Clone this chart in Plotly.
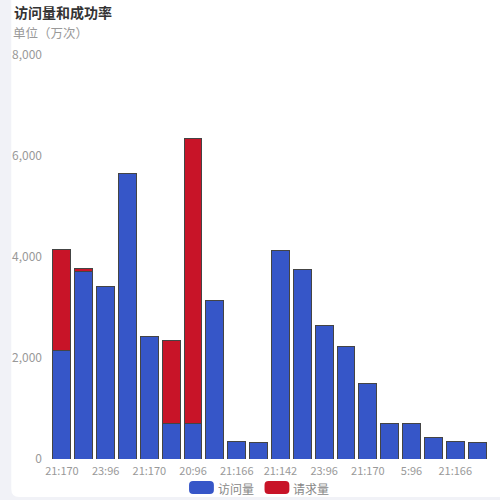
# 访问量和成功率 - stacked bar chart
import plotly.graph_objects as go

# Data
tick_labels = ['21:170', '23:96', '21:170', '20:96', '21:166',
               '21:142', '23:96', '21:170', '5:96', '21:166']
visits = [2140, 3720, 3420, 5650, 2420, 710, 710, 3130, 340, 320,
          4130, 3760, 2650, 2220, 1500, 710, 710, 420, 340, 320]
requests = [2000, 45, 0, 0, 0, 1630, 5640, 0, 0, 0,
            0, 0, 0, 0, 0, 0, 0, 0, 0, 0]

BLUE = '#3656c8'
RED = '#c81428'
GREY = '#999999'
FONT = 'Noto Sans CJK SC'

# Plot area in pixels (500x500 page)
L, R, T, B = 48, 12, 55, 41
PW, PH = 500 - L - R, 500 - T - B


def px_x(p):
    return (p - L) / PW


def px_y(p):
    return (500 - B - p) / PH


def rounded_rect(x0, y0, x1, y1, r):
    # path in paper coords from pixel corners
    pts = [
        f"M {px_x(x0 + r)} {px_y(y0)}",
        f"L {px_x(x1 - r)} {px_y(y0)}",
        f"Q {px_x(x1)} {px_y(y0)} {px_x(x1)} {px_y(y0 + r)}",
        f"L {px_x(x1)} {px_y(y1 - r)}",
        f"Q {px_x(x1)} {px_y(y1)} {px_x(x1 - r)} {px_y(y1)}",
        f"L {px_x(x0 + r)} {px_y(y1)}",
        f"Q {px_x(x0)} {px_y(y1)} {px_x(x0)} {px_y(y1 - r)}",
        f"L {px_x(x0)} {px_y(y0 + r)}",
        f"Q {px_x(x0)} {px_y(y0)} {px_x(x0 + r)} {px_y(y0)}",
        "Z",
    ]
    return ' '.join(pts)


x = list(range(len(visits)))

fig = go.Figure()
fig.add_trace(go.Bar(
    x=x, y=visits, name='访问量',
    marker=dict(color=BLUE, line=dict(color='#444444', width=1)),
))
fig.add_trace(go.Bar(
    x=x, y=requests, name='请求量',
    marker=dict(color=RED, line=dict(color='#444444', width=1)),
))

shapes = [
    # white card on grey page
    dict(type='path', xref='paper', yref='paper', layer='below',
         path=rounded_rect(8, -20, 520, 497, 8),
         fillcolor='white', line=dict(width=0)),
    # legend swatches
    dict(type='path', xref='paper', yref='paper',
         path=rounded_rect(187, 481, 212, 494, 4),
         fillcolor=BLUE, line=dict(width=0)),
    dict(type='path', xref='paper', yref='paper',
         path=rounded_rect(263, 481, 288, 494, 4),
         fillcolor=RED, line=dict(width=0)),
]

annotations = [
    dict(text='<b>访问量和成功率</b>', xref='paper', yref='paper',
         x=px_x(9), y=px_y(12), xanchor='left', yanchor='middle',
         showarrow=False, font=dict(size=14, color='#333333', family=FONT)),
    dict(text='单位（万次）', xref='paper', yref='paper',
         x=px_x(8), y=px_y(33), xanchor='left', yanchor='middle',
         showarrow=False, font=dict(size=12.5, color=GREY, family=FONT)),
    dict(text='访问量', xref='paper', yref='paper',
         x=px_x(214), y=px_y(488), xanchor='left', yanchor='middle',
         showarrow=False, font=dict(size=12, color='#888888', family=FONT)),
    dict(text='请求量', xref='paper', yref='paper',
         x=px_x(290), y=px_y(488), xanchor='left', yanchor='middle',
         showarrow=False, font=dict(size=12, color='#888888', family=FONT)),
]

fig.update_layout(
    barmode='stack',
    bargap=0.18,
    width=500, height=500,
    margin=dict(l=L, r=R, t=T, b=B, pad=0),
    paper_bgcolor='#f1f2f7',
    plot_bgcolor='rgba(0,0,0,0)',
    showlegend=False,
    font=dict(family=FONT, color=GREY),
    shapes=shapes,
    annotations=annotations,
    xaxis=dict(
        range=[-0.5, len(visits) - 0.5],
        tickvals=x[::2], ticktext=tick_labels,
        showgrid=False, zeroline=False, showline=False,
        ticks='', ticklabelstandoff=4,
        tickfont=dict(size=11, color=GREY),
    ),
    yaxis=dict(
        range=[0, 8000], dtick=2000, tickformat=',',
        showgrid=False, zeroline=False, showline=False,
        ticks='', ticklabelstandoff=8,
        tickfont=dict(size=12, color=GREY),
    ),
)

# drop the browser's default body margin so the 500x500 figure fills the window
fig.write_html(
    'out.html',
    config={'displayModeBar': False},
    post_script="document.body.style.margin='0';document.body.style.overflow='hidden';",
)
